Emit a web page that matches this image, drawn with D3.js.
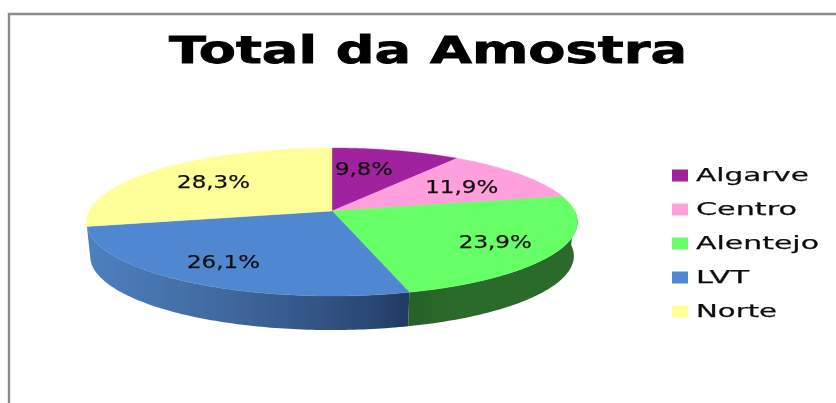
<!DOCTYPE html>
<html>
<head>
<meta charset="utf-8">
<script src="https://cdn.jsdelivr.net/npm/d3@7"></script>
<style>
html, body { margin: 0; background: #fff; overflow: hidden; }
text { font-family: "DejaVu Sans", sans-serif; fill: #111; }
</style>
</head>
<body>
<svg width="836" height="403"></svg>
<script>
var categories = ["Algarve", "Centro", "Alentejo", "LVT", "Norte"];
var values = [9.8, 11.9, 23.9, 26.1, 28.3];
var valueLabels = ["9,8%", "11,9%", "23,9%", "26,1%", "28,3%"];
var colors = ["#a1219e", "#ff9fdb", "#66ff66", "#4f88d0", "#ffff99"];
var sideColors = ["#5f1260", "#995f83", "url(#sideGreen)", "url(#sideBlue)", "#99995c"];

var svg = d3.select("svg");
var defs = svg.append("defs");

// legend text is stretched in the original, widths measured per label
var legendWidths = [113, 101, 123, 53, 81];
var labelNudge = [[-10, -3], [10, -1], [28, 6], [-24, 9], [-8, -3]];

defs.append("filter").attr("id", "soft")
    .append("feGaussianBlur").attr("stdDeviation", 0.6);

function gradient(id, stops) {
    var g = defs.append("linearGradient").attr("id", id);
    stops.forEach(function(s) {
        g.append("stop").attr("offset", s[0]).attr("stop-color", s[1]);
    });
}
gradient("sideBlue", [[0, "#4d80bf"], [0.45, "#3f679c"], [0.85, "#2b4a78"], [1, "#213a61"]]);
gradient("sideGreen", [[0, "#27622a"], [0.3, "#2b6b2c"], [1, "#2a6a2a"]]);

// frame, only top and left show in the crop
svg.append("path")
    .attr("d", "M9,403V14H836")
    .attr("fill", "none")
    .attr("stroke", "#8c8c8c")
    .attr("stroke-width", 2.4);

var root = svg.append("g").attr("filter", "url(#soft)");

// the pie is a circle seen in perspective: apex sits above the ellipse middle
var apexX = 332, apexY = 211;
var persp = 0.1486, spanX = 242.8, spanY = 72.4, depth = 34;

function project(angle, r, shrink, drop) {
    var u = Math.sin(angle) * r, v = -Math.cos(angle) * r;
    var d = 1 - persp * v;
    return [apexX + shrink * spanX * u / d, apexY + drop + spanY * v / d];
}

function arcPoints(a0, a1, shrink, drop) {
    var n = Math.max(2, Math.ceil((a1 - a0) * 60));
    return d3.range(n + 1).map(function(i) {
        return project(a0 + (a1 - a0) * i / n, 1, shrink, drop);
    });
}

var pie = d3.pie().sort(null);
var arcs = pie(values);
var line = d3.line();

// side wall first, the top face covers whatever is behind it
// wall stops where LVT ends, the yellow part is hidden in the original
var sideStart = Math.PI / 2, sideEnd = arcs[3].endAngle;
root.append("g").selectAll("path")
    .data(arcs.filter(function(d) { return d.endAngle > sideStart && d.startAngle < sideEnd; }))
    .enter()
    .append("path")
    .attr("fill", function(d) { return sideColors[d.index]; })
    .attr("d", function(d) {
        var a0 = Math.max(d.startAngle, sideStart), a1 = Math.min(d.endAngle, sideEnd);
        var pts = arcPoints(a0, a1, 1, 0).concat(arcPoints(a0, a1, 0.985, depth).reverse());
        return line(pts) + "Z";
    });

root.append("g").selectAll("path")
    .data(arcs)
    .enter()
    .append("path")
    .attr("fill", function(d) { return colors[d.index]; })
    .attr("stroke", function(d) { return colors[d.index]; })
    .attr("stroke-width", 0.4)
    .attr("d", function(d) {
        return line([[apexX, apexY]].concat(arcPoints(d.startAngle, d.endAngle, 1, 0))) + "Z";
    });

root.append("g").selectAll("text")
    .data(arcs)
    .enter()
    .append("text")
    .attr("x", function(d) { return project((d.startAngle + d.endAngle) / 2, 0.62, 1, 0)[0] + labelNudge[d.index][0]; })
    .attr("y", function(d) { return project((d.startAngle + d.endAngle) / 2, 0.62, 1, 0)[1] + labelNudge[d.index][1]; })
    .attr("dy", "0.36em")
    .attr("text-anchor", "middle")
    .attr("font-size", 18)
    .attr("stroke", "#111")
    .attr("stroke-width", 0.25)
    .attr("textLength", function(d) { return d.index == 0 ? 58 : 73; })
    .attr("lengthAdjust", "spacingAndGlyphs")
    .text(function(d) { return valueLabels[d.index]; });

root.append("text")
    .attr("x", 169)
    .attr("y", 63)
    .attr("font-size", 37)
    .attr("font-weight", "bold")
    .attr("stroke", "#000")
    .attr("stroke-width", 0.8)
    .attr("textLength", 518)
    .attr("lengthAdjust", "spacingAndGlyphs")
    .style("fill", "#000")
    .text("Total da Amostra");

// legend
var legendY = d3.scalePoint().domain(categories).range([175.5, 311.5]);
var legend = root.append("g").selectAll("g")
    .data(categories)
    .enter()
    .append("g")
    .attr("transform", function(d) { return "translate(672," + legendY(d) + ")"; });

legend.append("rect")
    .attr("y", -6)
    .attr("width", 16)
    .attr("height", 12)
    .attr("fill", function(d, i) { return colors[i]; });

legend.append("text")
    .attr("x", 24)
    .attr("y", 5.5)
    .attr("font-size", 18)
    .attr("stroke", "#111")
    .attr("stroke-width", 0.25)
    .attr("textLength", function(d, i) { return legendWidths[i]; })
    .attr("lengthAdjust", "spacingAndGlyphs")
    .text(function(d) { return d; });
</script>
</body>
</html>
